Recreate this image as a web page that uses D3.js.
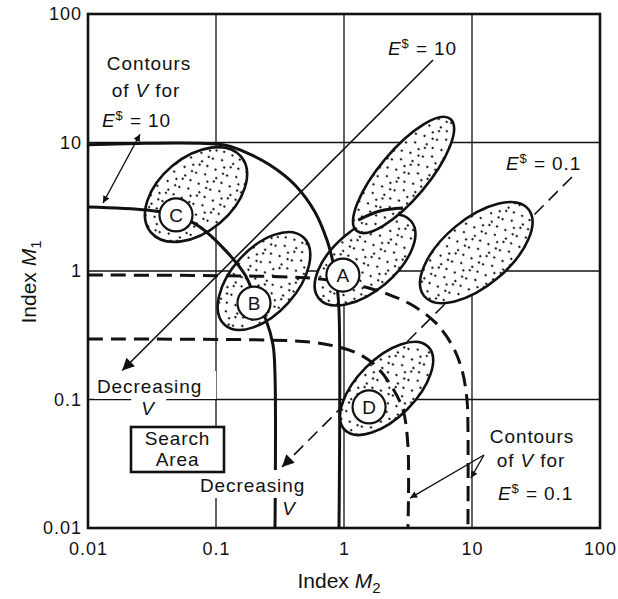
<!DOCTYPE html>
<html><head><meta charset="utf-8">
<script src="https://cdn.jsdelivr.net/npm/d3@7"></script>
<style>
body{margin:0;background:#fff}
svg{display:block}
text{font-family:"Liberation Sans",Arial,Helvetica,sans-serif;fill:#111}
</style>
</head><body>
<svg id="c" width="618" height="599"></svg>
<script>
// ---------- data (M2 = x, M1 = y, both log scales) ----------
const tickValues = [0.01, 0.1, 1, 10, 100];
const tickLabels = ["0.01", "0.1", "1", "10", "100"];
const gridValues = [0.1, 1, 10];

// Contours of V for E$ = 10 (solid)
const vE10Outer = [[0.01,9.6],[0.114,9.6],[0.169,8.43],[0.264,6.68],[0.414,4.67],[0.593,2.88],[0.736,1.74],[0.82,1.175],[0.88,0.778],[0.914,0.497],[0.914,0.01]];
const vE10Inner = [[0.01,3.15],[0.0289,2.98],[0.0487,2.73],[0.075,2.2],[0.1175,1.46],[0.169,0.93],[0.205,0.594],[0.246,0.416],[0.279,0.265],[0.289,0.155],[0.289,0.01]];
// Contours of V for E$ = 0.1 (dashed)
const vE01Outer = [[0.01,0.93],[0.542,0.883],[0.931,0.82],[1.46,0.75],[2.29,0.65],[3.4,0.543],[5.14,0.40],[6.98,0.265],[8.35,0.17],[9.14,0.099],[9.3,0.058],[9.3,0.01]];
const vE01Inner = [[0.01,0.296],[0.264,0.29],[0.542,0.28],[0.851,0.26],[1.26,0.23],[1.75,0.185],[2.37,0.125],[2.89,0.083],[3.16,0.043],[3.16,0.01]];
// short contour arc inside upper ellipse
const innerArc = [[1.29,2.49],[1.91,2.93],[2.89,3.09]];

// E$ lines (M1 = E$ * M2 roughly), from top end to arrow tip
const lineE10 = [[4.96,43.9],[0.0185,0.168]];
const lineE01 = [[60.4,5.39],[0.328,0.0299]];

// Search regions (ellipses): centre, semi-axes in decades, tilt in degrees
const ellM2    = [0.0698, 0.237, 1.46, 2.92, 10.8, 2.15];
const ellM1    = [3.94,   0.836, 1.22, 5.59, 1.39, 0.122];
const ellMajor = [0.46,   0.46,  0.47, 0.57, 0.53, 0.46];
const ellMinor = [0.29,   0.255, 0.245,0.19, 0.26, 0.23];
const ellTilt  = [40,     48,    40,   50,   40,   45];

// labelled design points
const ptNames = ["A", "B", "C", "D"];
const ptM2 = [0.98, 0.198, 0.0487, 1.57];
const ptM1 = [0.93, 0.563, 2.73, 0.0875];

// annotation pointers
const ptrLeft = [[0.0131,3.38],[0.0255,11.6]];
const ptrRightA = [[12.4,0.037],[3.28,0.0171]];
const ptrRightB = [[12.4,0.037],[9.8,0.0245]];

// ---------- drawing ----------
const svg = d3.select("#c");
const x = d3.scaleLog().domain([0.01,100]).range([88,600]);
const y = d3.scaleLog().domain([0.01,100]).range([528,14]);
const dec = x(10) - x(1);

const defs = svg.append("defs");
const pat = defs.append("pattern").attr("id","stip").attr("patternUnits","userSpaceOnUse")
  .attr("width",22).attr("height",22);
pat.append("rect").attr("width",22).attr("height",22).attr("fill","#fff");
[[3,4],[12,2],[18,9],[7,12],[15,16],[2,19],[10,20],[20,20]].forEach(p=>
  pat.append("circle").attr("cx",p[0]).attr("cy",p[1]).attr("r",1.15).attr("fill","#111"));

function marker(id, len, wid){
  defs.append("marker").attr("id",id).attr("viewBox","0 0 10 10")
    .attr("refX",10).attr("refY",5).attr("markerUnits","userSpaceOnUse")
    .attr("markerWidth",len).attr("markerHeight",wid).attr("orient","auto-start-reverse")
    .append("path").attr("d","M0,0 L10,5 L0,10 z").attr("fill","#111");
}
marker("bigArrow", 19, 12);
marker("smallArrow", 11, 7);

// grid
const g = svg.append("g");
g.selectAll(".gx").data(gridValues).join("line")
  .attr("x1",d=>x(d)).attr("x2",d=>x(d)).attr("y1",y(100)).attr("y2",y(0.01))
  .attr("stroke","#111").attr("stroke-width",1.3);
g.selectAll(".gy").data(gridValues).join("line")
  .attr("y1",d=>y(d)).attr("y2",d=>y(d)).attr("x1",x(0.01)).attr("x2",x(100))
  .attr("stroke","#111").attr("stroke-width",1.3);

const line = d3.line().x(d=>x(d[0])).y(d=>y(d[1]));
const curve = d3.line().x(d=>x(d[0])).y(d=>y(d[1])).curve(d3.curveCatmullRom.alpha(0.5));

// E$ lines (beneath ellipses)
svg.append("path").attr("d",line(lineE10)).attr("fill","none").attr("stroke","#111")
  .attr("stroke-width",1.6).attr("marker-end","url(#bigArrow)");
svg.append("path").attr("d",line(lineE01)).attr("fill","none").attr("stroke","#111")
  .attr("stroke-width",1.6).attr("stroke-dasharray","13 7").attr("marker-end","url(#bigArrow)");

// ellipses
svg.append("g").selectAll("ellipse").data(d3.range(ellM2.length)).join("ellipse")
  .attr("cx",i=>x(ellM2[i])).attr("cy",i=>y(ellM1[i]))
  .attr("rx",i=>ellMajor[i]*dec).attr("ry",i=>ellMinor[i]*dec)
  .attr("transform",i=>`rotate(${-ellTilt[i]},${x(ellM2[i])},${y(ellM1[i])})`)
  .attr("fill","url(#stip)").attr("stroke","#111").attr("stroke-width",2.6);

// contours
const cg = svg.append("g").attr("fill","none").attr("stroke","#111").attr("stroke-width",3);
cg.append("path").attr("d",curve(vE10Outer));
cg.append("path").attr("d",curve(vE10Inner));
cg.append("path").attr("d",curve(innerArc));
cg.append("path").attr("d",curve(vE01Outer)).attr("stroke-dasharray","15 8");
cg.append("path").attr("d",curve(vE01Inner)).attr("stroke-dasharray","15 8");

// pointers
svg.append("path").attr("d",line(ptrLeft)).attr("stroke","#111").attr("stroke-width",1.4)
  .attr("marker-start","url(#smallArrow)").attr("marker-end","url(#smallArrow)");
[ptrRightA, ptrRightB].forEach(p=>svg.append("path").attr("d",line(p)).attr("stroke","#111")
  .attr("stroke-width",1.4).attr("marker-end","url(#smallArrow)"));

// frame
svg.append("rect").attr("x",x(0.01)).attr("y",y(100)).attr("width",x(100)-x(0.01))
  .attr("height",y(0.01)-y(100)).attr("fill","none").attr("stroke","#111").attr("stroke-width",2.6);

// labelled points
const pg = svg.append("g").selectAll("g").data(d3.range(ptNames.length)).join("g")
  .attr("transform",i=>`translate(${x(ptM2[i])},${y(ptM1[i])})`);
pg.append("circle").attr("r",16.5).attr("fill","#fff").attr("stroke","#111").attr("stroke-width",2.2);
pg.append("text").attr("text-anchor","middle").attr("dy","0.36em").attr("font-size",19)
  .text(i=>ptNames[i]);

// axes
const fmt = d => tickLabels[tickValues.indexOf(d)];
const ax = svg.append("g").attr("transform",`translate(0,${y(0.01)})`)
  .call(d3.axisBottom(x).tickValues(tickValues).tickFormat(fmt).tickSize(0).tickPadding(14));
const ay = svg.append("g").attr("transform",`translate(${x(0.01)},0)`)
  .call(d3.axisLeft(y).tickValues(tickValues).tickFormat(fmt).tickSize(0).tickPadding(6));
[ax, ay].forEach(a=>{
  a.select(".domain").remove();
  a.selectAll("text").attr("font-size",18).attr("font-family",null).attr("fill","#111")
    .style("letter-spacing","1px");
});

// text helpers
function label(px, py, parts, anchor, size){
  const t = svg.append("text").attr("x",px).attr("y",py).attr("text-anchor",anchor||"start")
    .attr("font-size",size||19).style("letter-spacing","0.9px");
  parts.forEach(p=>{
    const s = t.append("tspan").text(p.t);
    if(p.i) s.attr("font-style","italic");
    if(p.fs) s.attr("font-size",p.fs);
    if(p.dy) s.attr("dy",p.dy);
  });
  return t;
}
function bg(t, l, r, tp, b){
  const bb = t.node().getBBox();
  svg.insert("rect", function(){ return t.node(); })
    .attr("x",bb.x-l).attr("y",bb.y-tp).attr("width",bb.width+l+r).attr("height",bb.height+tp+b)
    .attr("fill","#fff");
}
const eDollar = (rest)=>[{t:"E",i:true},{t:"$",fs:13,dy:-7},{t:rest,dy:7}];

// left contour note
label(149,70,[{t:"Contours"}],"middle");
label(146,97,[{t:"of "},{t:"V",i:true},{t:" for"}],"middle");
label(102,127,eDollar(" = 10"));

// E$ line labels
label(388,55,eDollar(" = 10"));
label(506,170,eDollar(" = 0.1"));

// right contour note
label(532,443,[{t:"Contours"}],"middle");
label(531,467,[{t:"of "},{t:"V",i:true},{t:" for"}],"middle");
label(498,500,eDollar(" = 0.1"));

// decreasing V labels
const d1 = label(97,393,[{t:"Decreasing"}]);
bg(d1,3,14,5,2);
const v1 = label(148,415,[{t:"V",i:true}],"middle");
bg(v1,10,10,0,0);
const d2 = label(200,492,[{t:"Decreasing"}]);
bg(d2,3,3,5,2);
label(289,515,[{t:"V",i:true}],"middle");

// search area box
svg.append("rect").attr("x",131).attr("y",427).attr("width",93).attr("height",45)
  .attr("fill","#fff").attr("stroke","#111").attr("stroke-width",2.6);
label(177.5,445,[{t:"Search"}],"middle");
label(177.5,466,[{t:"Area"}],"middle");

// axis titles
const tx = svg.append("text").attr("x",339).attr("y",588).attr("text-anchor","middle").attr("font-size",21);
tx.append("tspan").text("Index ");
tx.append("tspan").text("M").attr("font-style","italic");
tx.append("tspan").text("2").attr("font-size",15).attr("dy",5);
const ty = svg.append("text").attr("transform","translate(36,282) rotate(-90)")
  .attr("text-anchor","middle").attr("font-size",21);
ty.append("tspan").text("Index ");
ty.append("tspan").text("M").attr("font-style","italic");
ty.append("tspan").text("1").attr("font-size",15).attr("dy",5);
</script>
</body></html>
